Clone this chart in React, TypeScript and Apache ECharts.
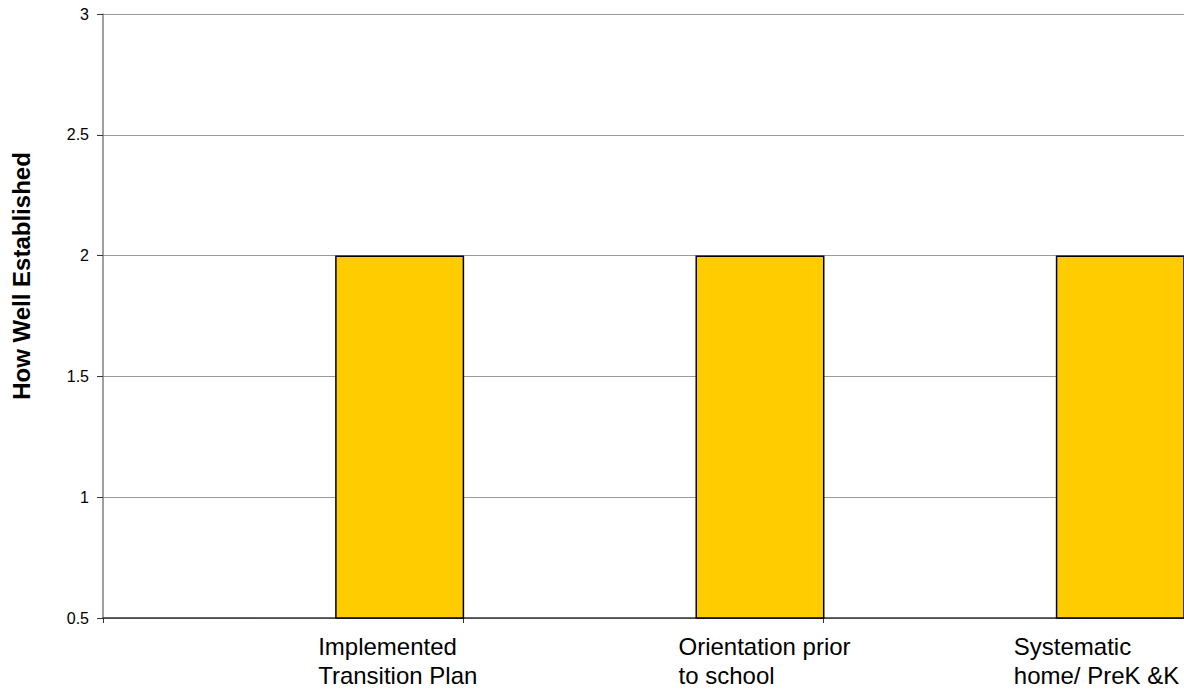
import React, { useEffect, useRef } from "react";
import * as echarts from "echarts";

const categories = [
  "Implemented\nTransition Plan",
  "Orientation prior\nto school",
  "Systematic\nhome/ PreK &K",
];
const values = [2, 2, 2];
const yTicks = { min: 0.5, max: 3, interval: 0.5 };
const yTitle = "How Well Established";

const FONT = "'Liberation Sans', Arial, Helvetica, sans-serif";

export default function App() {
  const ref = useRef<HTMLDivElement>(null);

  useEffect(() => {
    if (!ref.current) return;
    const chart = echarts.init(ref.current, undefined, { renderer: "svg" });
    const labelLeftPad = [35, 35, 10];
    chart.setOption({
      animation: false,
      backgroundColor: "#ffffff",
      grid: { left: 103, top: 14, width: 1083, height: 604, containLabel: false },
      xAxis: {
        type: "category",
        data: categories.map((c, i) => ({
          value: c,
          textStyle: { align: "left", padding: [0, 0, 0, labelLeftPad[i]] },
        })),
        boundaryGap: true,
        axisLine: { show: true, lineStyle: { color: "#333333", width: 1.5 } },
        axisTick: { show: true, length: 5, inside: false, lineStyle: { color: "#333333", width: 1 } },
        axisLabel: {
          interval: 0,
          align: "left",
          margin: 14,
          fontSize: 24,
          lineHeight: 29,
          color: "#000000",
          fontFamily: FONT,
        },
        splitLine: { show: false },
      },
      yAxis: {
        type: "value",
        min: yTicks.min,
        max: yTicks.max,
        interval: yTicks.interval,
        axisLine: { show: true, lineStyle: { color: "#808080", width: 1.5 } },
        axisTick: { show: true, length: 6, inside: false, lineStyle: { color: "#333333", width: 1 } },
        axisLabel: {
          margin: 14,
          fontSize: 16,
          color: "#000000",
          fontFamily: FONT,
          formatter: (v: number) => String(v),
        },
        splitLine: { show: true, lineStyle: { color: "#9a9a9a", width: 1 } },
      },
      graphic: [
        {
          type: "text",
          x: 21,
          y: 276,
          rotation: Math.PI / 2,
          style: {
            text: yTitle,
            font: `bold 24px ${FONT}`,
            fill: "#000000",
            textAlign: "center",
            textVerticalAlign: "middle",
            align: "center",
            verticalAlign: "middle",
          },
        },
      ],
      series: [
        {
          type: "bar",
          name: "spacer",
          data: values.map(() => "-"),
          barWidth: 129,
          barGap: "80.6%",
          silent: true,
        },
        {
          type: "bar",
          name: "How Well Established",
          data: values,
          barWidth: 129,
          barGap: "80.6%",
          itemStyle: { color: "#FFCC00", borderColor: "#000000", borderWidth: 1.5 },
        },
      ],
    });
    return () => chart.dispose();
  }, []);

  return (
    <div
      ref={ref}
      style={{ position: "fixed", left: 0, top: 0, width: 1184, height: 690, background: "#fff" }}
    />
  );
}
